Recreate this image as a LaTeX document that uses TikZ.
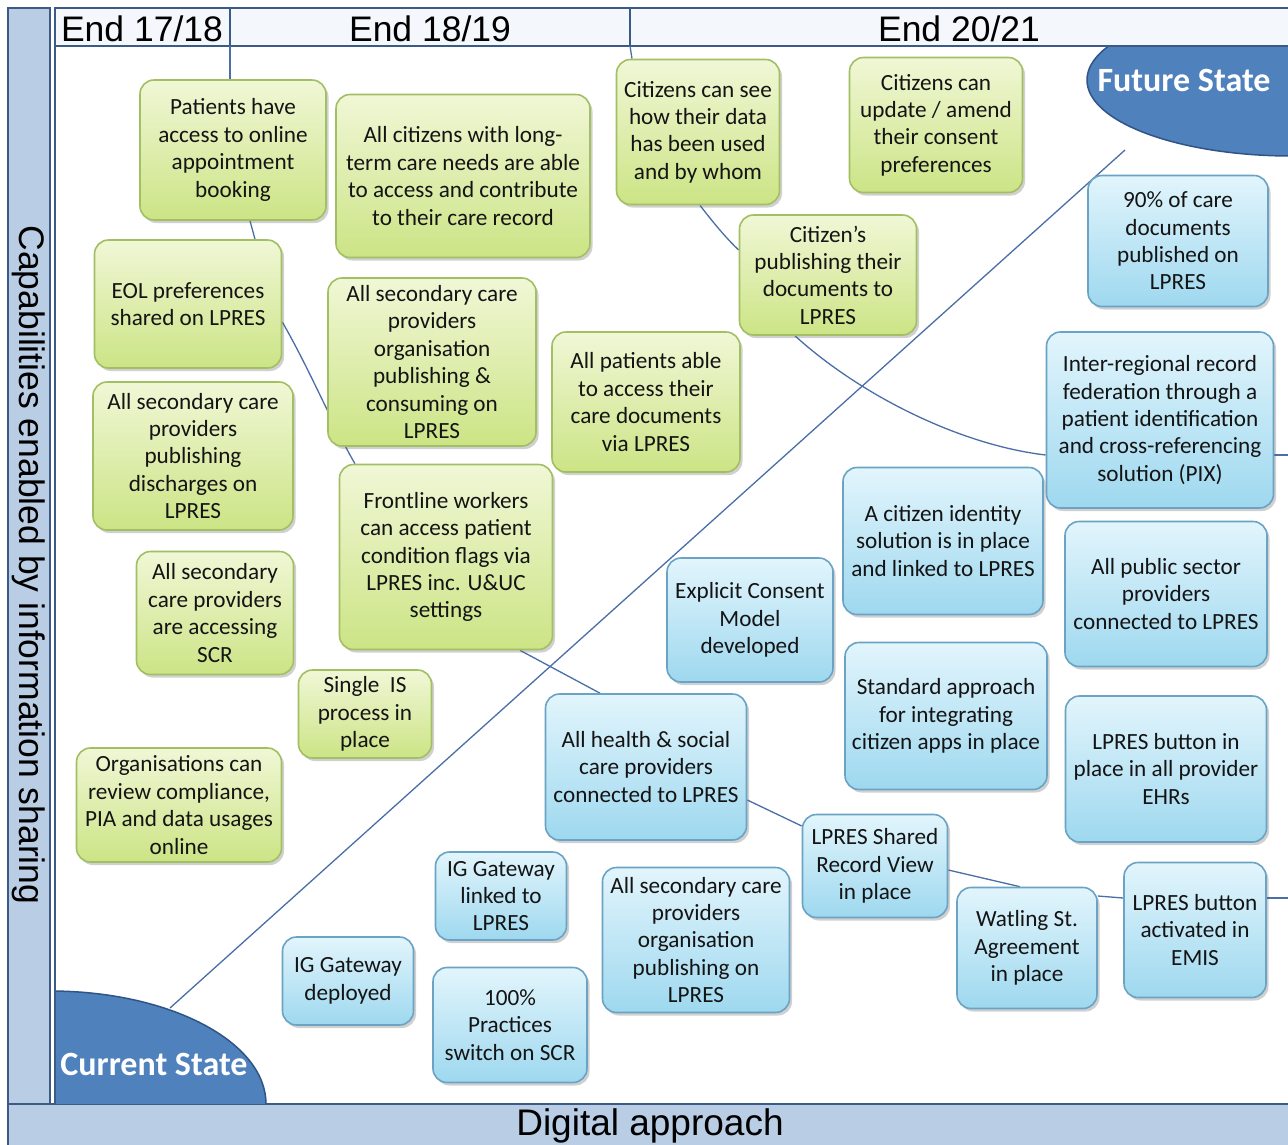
\documentclass[tikz,border=0pt]{standalone}
\usepackage{fontspec}
\setmainfont{Carlito}
\newfontfamily\arialf{Liberation Sans}
\usetikzlibrary{shadows,calc}
\definecolor{bandblue}{HTML}{B9CDE5}
\definecolor{framedark}{HTML}{3B5A86}
\definecolor{stateblue}{HTML}{4F81BD}
\definecolor{statedark}{HTML}{2F5486}
\definecolor{hdrfill}{HTML}{F4F8FD}
\definecolor{gtop}{HTML}{F0F7D6}
\definecolor{gbot}{HTML}{CCE485}
\definecolor{gline}{HTML}{A3BF63}
\definecolor{btop}{HTML}{E2F5FC}
\definecolor{bbot}{HTML}{9ED8EF}
\definecolor{bline}{HTML}{6AA3C4}
\definecolor{linkc}{HTML}{4A6EA6}
\pgfdeclarelayer{bg}
\pgfdeclarelayer{links}
\pgfsetlayers{bg,links,main}
\begin{document}
\begin{tikzpicture}[x=1pt,y=-1pt,
 box/.style={rectangle, rounded corners=14pt, line width=1.6pt, align=center, inner sep=2pt,
   text=black!92, font=\fontsize{23.2}{27.4}\selectfont,
   drop shadow={shadow xshift=2.5pt, shadow yshift=-3pt, opacity=0.3, fill=black!60}},
 gbox/.style={box, draw=gline, top color=gtop, bottom color=gbot},
 bbox/.style={box, draw=bline, top color=btop, bottom color=bbot},
 link/.style={draw=linkc, line width=1.3pt},
 hdr/.style={font=\arialf\fontsize{35.5}{35.5}\selectfont, inner sep=0pt},
 statelbl/.style={text=white, font=\bfseries\fontsize{34}{34}\selectfont, inner sep=0pt},
 ]
\useasboundingbox (0,0) rectangle (1288,1144);
\begin{pgfonlayer}{bg}
\fill[white] (0,0) rectangle (1288,1144);
\draw[framedark, line width=2pt, fill=bandblue] (8,8) rectangle (50,1104);
\draw[framedark, line width=2pt, fill=bandblue] (8,1104) rectangle (1292,1148);
\draw[framedark, line width=1.2pt] (55,46) -- (55,1104);
\draw[framedark, line width=2pt, fill=hdrfill] (55,8) rectangle (1292,46);
\draw[framedark, line width=1.5pt] (230,8) -- (230,46) (630,8) -- (630,46);
\begin{scope}
\clip (56,47) rectangle (1288,1103);
\draw[statedark, line width=1.5pt, fill=stateblue] (1292,80) ellipse [x radius=205, y radius=76];
\draw[statedark, line width=1.5pt, fill=stateblue] (50,1104) ellipse [x radius=216, y radius=113];
\end{scope}
\node[statelbl] (fs) at (1184,80) {Future State};
\node[statelbl] (cs) at (154,1064) {Current State};
\node[hdr] (h1) at (142,29) {End 17/18};
\node[hdr] (h2) at (430,29) {End 18/19};
\node[hdr] (h3) at (959,29) {End 20/21};
\node[font=\arialf\fontsize{35.5}{35.5}\selectfont, rotate=-90, inner sep=0pt] (ylab) at (29,565) {Capabilities enabled by information sharing};
\node[font=\arialf\fontsize{37}{37}\selectfont, inner sep=0pt] (xlab) at (650,1126) {Digital approach};
\end{pgfonlayer}

% green boxes
\node[gbox, minimum width=186, minimum height=140] (g1) at (233,150) {Patients have\\access to online\\appointment\\booking};
\node[gbox, minimum width=254, minimum height=163] (g2) at (463,176) {All citizens with long-\\term care needs are able\\to access and contribute\\to their care record};
\node[gbox, minimum width=187, minimum height=128] (g3) at (188,304) {EOL preferences\\shared on LPRES};
\node[gbox, minimum width=208, minimum height=168] (g4) at (432,362) {All secondary care\\providers\\organisation\\publishing \&\\consuming on\\LPRES};
\node[gbox, minimum width=188, minimum height=140] (g5) at (646,402) {All patients able\\to access their\\care documents\\via LPRES};
\node[gbox, minimum width=200, minimum height=148] (g6) at (193,456) {All secondary care\\providers\\publishing\\discharges on\\LPRES};
\node[gbox, minimum width=213, minimum height=185] (g7) at (446,557) {Frontline workers\\can access patient\\condition flags via\\LPRES inc. U\&UC\\settings};
\node[gbox, minimum width=157, minimum height=123] (g8) at (215,613) {All secondary\\care providers\\are accessing\\SCR};
\node[gbox, minimum width=133, minimum height=88] (g9) at (365,714) {Single~~IS\\process in\\place};
\node[gbox, minimum width=205, minimum height=114] (g10) at (179,805) {Organisations can\\review compliance,\\PIA and data usages\\online};
\node[gbox, minimum width=163, minimum height=145] (g11) at (698,132) {Citizens can see\\how their data\\has been used\\and by whom};
\node[gbox, minimum width=173, minimum height=135] (g12) at (936,125) {Citizens can\\update / amend\\their consent\\preferences};
\node[gbox, minimum width=177, minimum height=120] (g13) at (828,275) {Citizen's\\publishing their\\documents to\\LPRES};

% blue boxes
\node[bbox, minimum width=180, minimum height=131] (b1) at (1178,241) {90\% of care\\documents\\published on\\LPRES};
\node[bbox, minimum width=227, minimum height=176] (b2) at (1160,420) {Inter-regional record\\federation through a\\patient identification\\and cross-referencing\\solution (PIX)};
\node[bbox, minimum width=200, minimum height=147] (b3) at (943,541) {A citizen identity\\solution is in place\\and linked to LPRES};
\node[bbox, minimum width=202, minimum height=145] (b4) at (1166,594) {All public sector\\providers\\connected to LPRES};
\node[bbox, minimum width=166, minimum height=124] (b5) at (750,620) {Explicit Consent\\Model\\developed};
\node[bbox, minimum width=202, minimum height=147] (b6) at (946,716) {Standard approach\\for integrating\\citizen apps in place};
\node[bbox, minimum width=201, minimum height=146] (b7) at (1166,769) {LPRES button in\\place in all provider\\EHRs};
\node[bbox, minimum width=201, minimum height=146] (b8) at (646,767) {All health \& social\\care providers\\connected to LPRES};
\node[bbox, minimum width=145, minimum height=103] (b9) at (875,866) {LPRES Shared\\Record View\\in place};
\node[bbox, minimum width=131, minimum height=88] (b10) at (501,896) {IG Gateway\\linked to\\LPRES};
\node[bbox, minimum width=187, minimum height=145] (b11) at (696,940) {All secondary care\\providers\\organisation\\publishing on\\LPRES};
\node[bbox, minimum width=140, minimum height=121] (b12) at (1027,948) {Watling St.\\Agreement\\in place};
\node[bbox, minimum width=142, minimum height=135] (b13) at (1195,930) {LPRES button\\activated in\\EMIS};
\node[bbox, minimum width=131, minimum height=88] (b14) at (348,981) {IG Gateway\\deployed};
\node[bbox, minimum width=154, minimum height=115] (b15) at (510,1025) {100\%\\Practices\\switch on SCR};

% connectors
\begin{pgfonlayer}{links}
\coordinate (csedge) at (170,1008);
\coordinate (fsedge) at (1125,150);
\draw[link] (csedge) -- (fsedge);
\coordinate (t1) at (230,46);
\coordinate (t2) at (630,46);
\coordinate (r1) at (1288,898);
\coordinate (r2) at (1288,455);
\draw[link] (t1) -- ($(g1.north)+(-3,0)$);
\draw[link] ($(g1.south)+(17,0)$) -- ($(g3.north)+(67,0)$);
\draw[link] ($(g3.east)+(0,18)$) .. controls (310,370) and (335,430) .. ($(g7.north)+(-91,0)$);
\draw[link] ($(g7.south)+(74,0)$) -- ($(b8.north)+(-46,0)$);
\draw[link] ($(b8.east)+(0,33)$) -- ($(b9.west)+(0,-40)$);
\draw[link] ($(b9.east)+(0,4)$) -- ($(b12.north)+(-7,0)$);
\draw[link] ($(b12.east)+(0,-52)$) -- ($(b13.west)+(0,-32)$);
\draw[link] ($(b13.east)+(0,-32)$) -- (r1);
\draw[link] (t2) -- ($(g11.north)+(-66,0)$);
\draw[link] ($(g11.south)+(2,0)$) .. controls (715,225) and (728,240) .. ($(g13.west)+(0,-25)$);
\draw[link] ($(g13.south)+(-33,0)$) .. controls (860,395) and (960,445) .. ($(b2.west)+(0,35)$);
\draw[link] ($(b2.east)+(0,35)$) -- (r2);
\end{pgfonlayer}
\end{tikzpicture}
\end{document}
